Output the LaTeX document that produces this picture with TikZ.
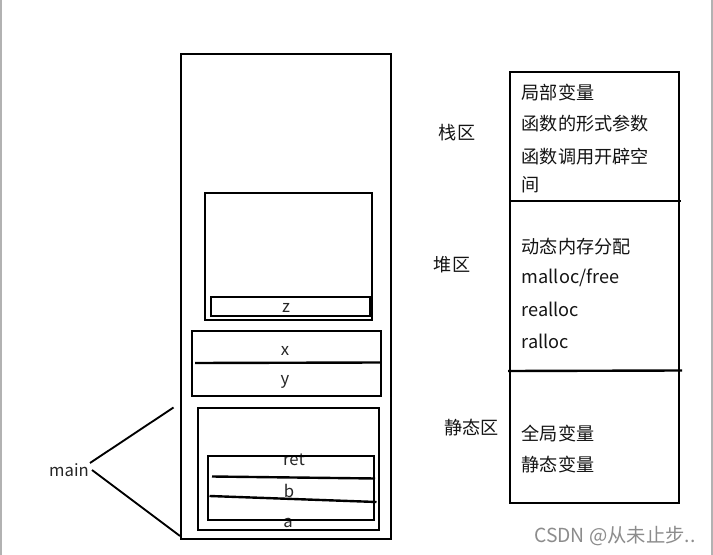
\documentclass[tikz,border=0pt]{standalone}
\usepackage{fontspec}
\setmainfont{Noto Sans CJK SC}
\begin{document}
\begin{tikzpicture}[x=0.75pt,y=-0.75pt,
  box/.style={draw=black,line width=1.5pt},
  sep/.style={draw=black,line width=1.8pt},
  var/.style={font=\fontsize{12.5}{14}\selectfont,text=black!85,inner sep=0pt},
  cn/.style={font=\fontsize{13.6}{15}\selectfont,anchor=west,inner sep=0pt,text=black!92},
  area/.style={font=\fontsize{13.6}{15}\selectfont,inner sep=0pt,text=black!92},
  wm/.style={font=\fontsize{14.5}{16}\selectfont,text=black!45,inner sep=0pt}]
\useasboundingbox (0,0) rectangle (713,555);
\fill[white] (0,0) rectangle (713,555);
\draw[black!30,line width=1.5pt] (1,0) -- (1,555);
\draw[black!30,line width=1.5pt] (712,0) -- (712,555);
% big memory box (left)
\draw[box] (181,54) rectangle (391,539);
\draw[box] (205,193) rectangle (372,320);
\draw[box] (210.5,297.5) rectangle (370,316);
\node[var] (z) at (286,308) {z};
\draw[box] (192,331) rectangle (381,396);
\coordinate (xl1) at (195,363);
\coordinate (xl2) at (381,362.5);
\draw[sep] (xl1) -- (xl2);
\node[var] (x) at (285,351) {x};
\node[var] (y) at (285,382) {y};
\draw[box] (198,407.5) rectangle (379,530);
\node[var] (ret) at (294,460) {ret};
\node[var] (a) at (288,522.5) {a};
\draw[box] (207.5,456) rectangle (374,520);
\coordinate (rl1) at (212,476.5);
\coordinate (rl2) at (375,478.5);
\draw[sep] (rl1) -- (rl2);
\node[var] (b) at (289,491) {b};
\coordinate (bl1) at (209.5,496);
\coordinate (bl2) at (376.5,502);
\draw[sep] (bl1) -- (bl2);
% main
\node[var] (main) at (69,470) {main};
\coordinate (m0) at (90,463);
\coordinate (m1) at (92,470);
\coordinate (t1) at (173.5,407.5);
\coordinate (t2) at (180,536);
\draw[line width=1.4pt] (m0) -- (t1);
\draw[line width=1.4pt] (m1) -- (t2);
% right box
\draw[box] (510,72.5) rectangle (679,502.5);
\coordinate (d1a) at (510,201);
\coordinate (d1b) at (681,201);
\draw[sep] (d1a) -- (d1b);
\coordinate (d2a) at (508,371);
\coordinate (d2b) at (682,370.5);
\draw[sep] (d2a) -- (d2b);
\node[cn] (s1) at (521.5,93) {局部变量};
\node[cn] (s2) at (521.5,124) {函数的形式参数};
\node[cn] (s3) at (521.5,156.5) {函数调用开辟空};
\node[cn] (s4) at (521.5,185) {间};
\node[cn] (h1) at (521.5,246.5) {动态内存分配};
\node[cn] (h2) at (521.5,278) {malloc/free};
\node[cn] (h3) at (521.5,309.5) {realloc};
\node[cn] (h4) at (521.5,341.5) {ralloc};
\node[cn] (g1) at (521.5,433.5) {全局变量};
\node[cn] (g2) at (521.5,465) {静态变量};
\node[area] (stack) at (457,133) {栈区};
\node[area] (heap) at (452,265) {堆区};
\node[area] (static) at (471.5,428) {静态区};
\node[wm,anchor=west] (csdn) at (534,536.5) {CSDN @从未止步..};
\end{tikzpicture}
\end{document}
